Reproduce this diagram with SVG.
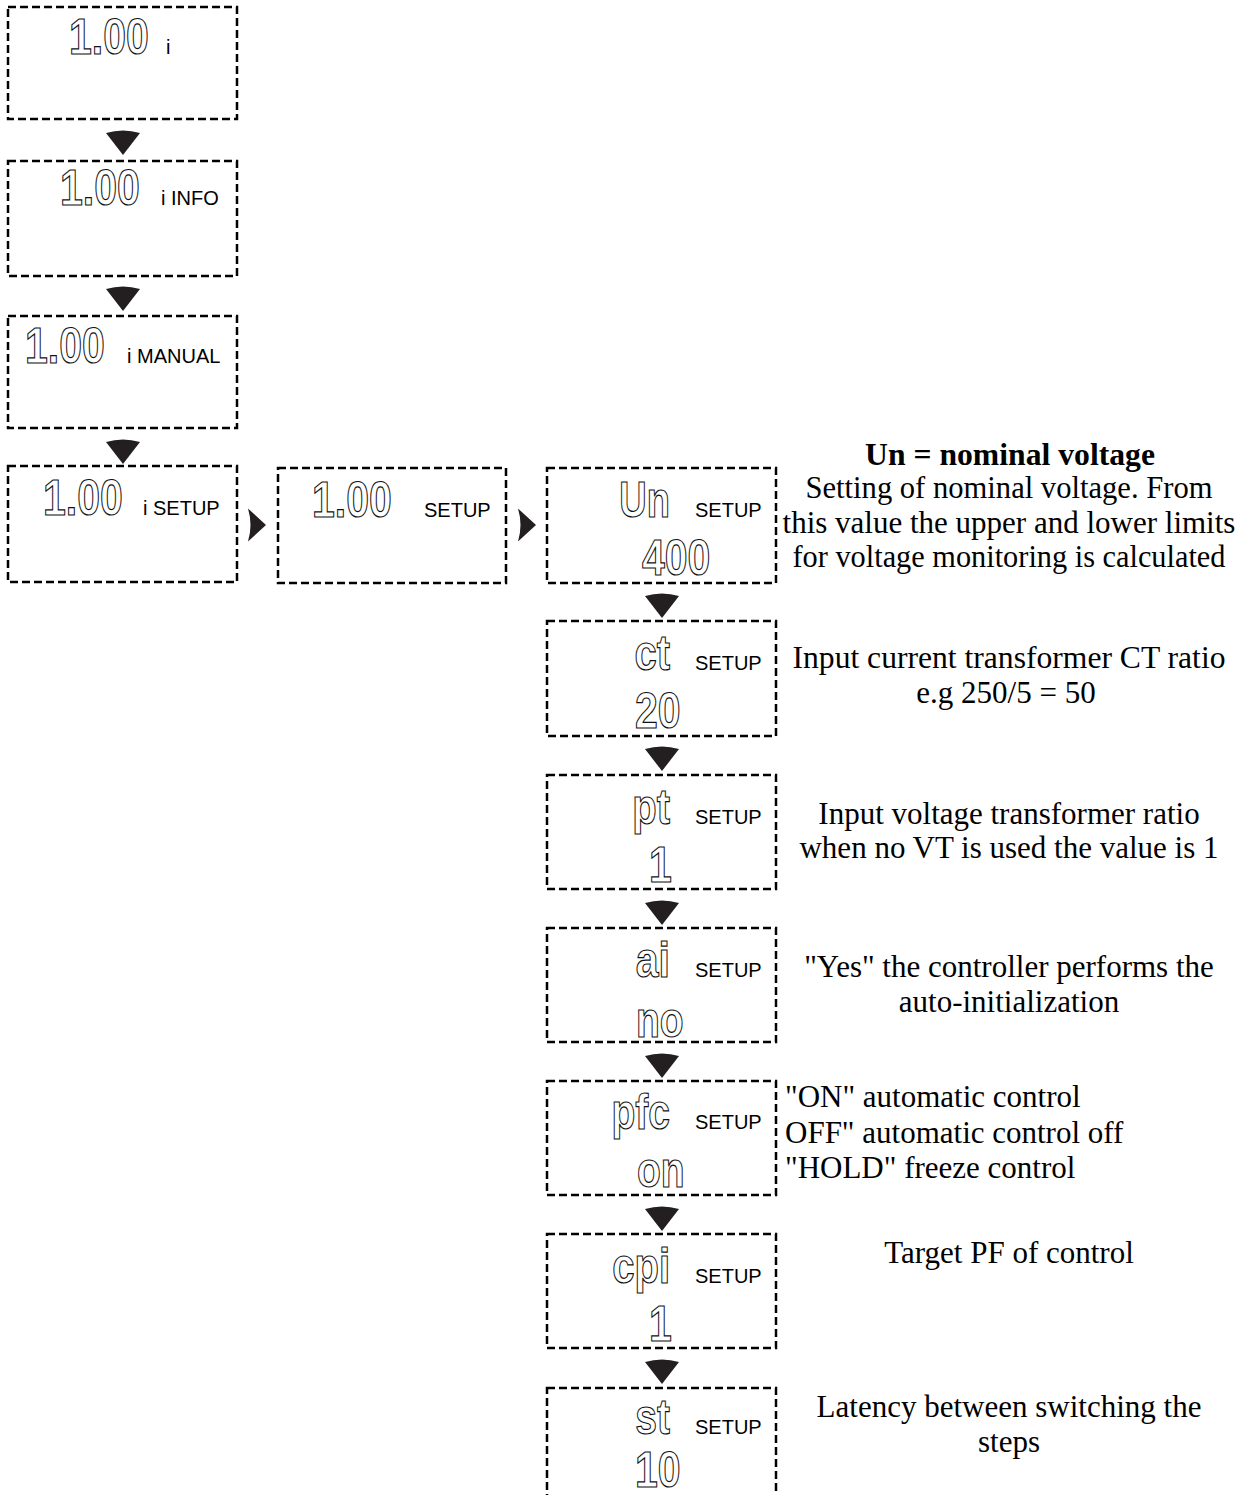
<svg xmlns="http://www.w3.org/2000/svg" width="1244" height="1495" viewBox="0 0 1244 1495">
<style>
.box{fill:none;stroke:#000;stroke-width:2.5;stroke-dasharray:8 4}
.lcd{font-family:"Liberation Sans",Arial,sans-serif;font-size:50px;font-weight:bold;fill:#fff;stroke:#111;stroke-width:1.2}
.lbl{font-family:"Liberation Sans",Arial,sans-serif;font-size:20px;fill:#000}
.desc{font-family:"Liberation Serif","Times New Roman",serif;font-size:31px;fill:#000}
.ttl{font-weight:bold}
.arr{fill:#231f20}
</style>
<defs>
<path id="down" d="M-17,0 Q0,-5 17,0 L0,22 Z"/>
<path id="right" d="M0,-16.5 Q5,0 0,16.5 L18,0 Z"/>
</defs>
<rect width="1244" height="1495" fill="#fff"/>

<g id="connectors">
<use href="#down" class="arr" x="123" y="133"/>
<use href="#down" class="arr" x="123" y="289"/>
<use href="#down" class="arr" x="123" y="442"/>
<use href="#right" class="arr" x="248" y="525"/>
<use href="#right" class="arr" x="518" y="525"/>
<use href="#down" class="arr" x="662" y="596"/>
<use href="#down" class="arr" x="662" y="749"/>
<use href="#down" class="arr" x="662" y="903"/>
<use href="#down" class="arr" x="662" y="1056"/>
<use href="#down" class="arr" x="662" y="1209"/>
<use href="#down" class="arr" x="662" y="1362"/>
</g>

<g id="node-i">
<rect class="box" x="8" y="7" width="229" height="112"/>
<text class="lcd" transform="translate(69,54) scale(0.82,1)">1.00</text>
<text class="lbl" x="166" y="54">i</text>
</g>
<g id="node-info">
<rect class="box" x="8" y="161" width="229" height="115"/>
<text class="lcd" transform="translate(60,205) scale(0.82,1)">1.00</text>
<text class="lbl" x="161" y="205">i INFO</text>
</g>
<g id="node-manual">
<rect class="box" x="8" y="316" width="229" height="112"/>
<text class="lcd" transform="translate(25,363) scale(0.82,1)">1.00</text>
<text class="lbl" x="127" y="363">i MANUAL</text>
</g>
<g id="node-isetup">
<rect class="box" x="8" y="466" width="229" height="116"/>
<text class="lcd" transform="translate(43,515) scale(0.82,1)">1.00</text>
<text class="lbl" x="143" y="515">i SETUP</text>
</g>
<g id="node-setup">
<rect class="box" x="278" y="468" width="228" height="115"/>
<text class="lcd" transform="translate(312,517) scale(0.82,1)">1.00</text>
<text class="lbl" x="424" y="517">SETUP</text>
</g>

<g id="node-un">
<rect class="box" x="547" y="468" width="229" height="115"/>
<text class="lcd" text-anchor="end" transform="translate(670,517) scale(0.76,1)">Un</text>
<text class="lbl" x="695" y="517">SETUP</text>
<text class="lcd" transform="translate(642,575) scale(0.82,1)">400</text>
</g>
<g id="node-ct">
<rect class="box" x="547" y="621" width="229" height="115"/>
<text class="lcd" text-anchor="end" transform="translate(670,670) scale(0.8,1)">ct</text>
<text class="lbl" x="695" y="670">SETUP</text>
<text class="lcd" transform="translate(635,728) scale(0.82,1)">20</text>
</g>
<g id="node-pt">
<rect class="box" x="547" y="775" width="229" height="114"/>
<text class="lcd" text-anchor="end" transform="translate(670,824) scale(0.8,1)">pt</text>
<text class="lbl" x="695" y="824">SETUP</text>
<text class="lcd" transform="translate(649,882) scale(0.82,1)">1</text>
</g>
<g id="node-ai">
<rect class="box" x="547" y="928" width="229" height="114"/>
<text class="lcd" text-anchor="end" transform="translate(670,977) scale(0.82,1)">ai</text>
<text class="lbl" x="695" y="977">SETUP</text>
<text class="lcd" transform="translate(636,1037) scale(0.78,1)">no</text>
</g>
<g id="node-pfc">
<rect class="box" x="547" y="1081" width="229" height="114"/>
<text class="lcd" text-anchor="end" transform="translate(670,1129) scale(0.78,1)">pfc</text>
<text class="lbl" x="695" y="1129">SETUP</text>
<text class="lcd" transform="translate(637,1187) scale(0.78,1)">on</text>
</g>
<g id="node-cpi">
<rect class="box" x="547" y="1234" width="229" height="114"/>
<text class="lcd" text-anchor="end" transform="translate(670,1283) scale(0.8,1)">cpi</text>
<text class="lbl" x="695" y="1283">SETUP</text>
<text class="lcd" transform="translate(649,1341) scale(0.82,1)">1</text>
</g>
<g id="node-st">
<rect class="box" x="547" y="1388" width="229" height="116"/>
<text class="lcd" text-anchor="end" transform="translate(670,1434) scale(0.78,1)">st</text>
<text class="lbl" x="695" y="1434">SETUP</text>
<text class="lcd" transform="translate(635,1487) scale(0.82,1)">10</text>
</g>

<g id="descriptions" text-anchor="middle">
<text class="desc ttl" x="1010" y="465" textLength="290" lengthAdjust="spacingAndGlyphs">Un = nominal voltage</text>
<text class="desc" x="1009" y="498" textLength="407" lengthAdjust="spacingAndGlyphs">Setting of nominal voltage. From</text>
<text class="desc" x="1009" y="533">this value the upper and lower limits</text>
<text class="desc" x="1009" y="567" textLength="433" lengthAdjust="spacingAndGlyphs">for voltage monitoring is calculated</text>
<text class="desc" x="1009" y="668" textLength="433" lengthAdjust="spacingAndGlyphs">Input current transformer CT ratio</text>
<text class="desc" x="1006" y="703">e.g 250/5 = 50</text>
<text class="desc" x="1009" y="824">Input voltage transformer ratio</text>
<text class="desc" x="1009" y="858">when no VT is used the value is 1</text>
<text class="desc" x="1009" y="977">"Yes" the controller performs the</text>
<text class="desc" x="1009" y="1012">auto-initialization</text>
<text class="desc" x="1009" y="1263">Target PF of control</text>
<text class="desc" x="1009" y="1417">Latency between switching the</text>
<text class="desc" x="1009" y="1452">steps</text>
</g>
<g id="desc-pfc">
<text class="desc" x="785" y="1107">"ON" automatic control</text>
<text class="desc" x="785" y="1143">OFF" automatic control off</text>
<text class="desc" x="785" y="1178">"HOLD" freeze control</text>
</g>
</svg>
